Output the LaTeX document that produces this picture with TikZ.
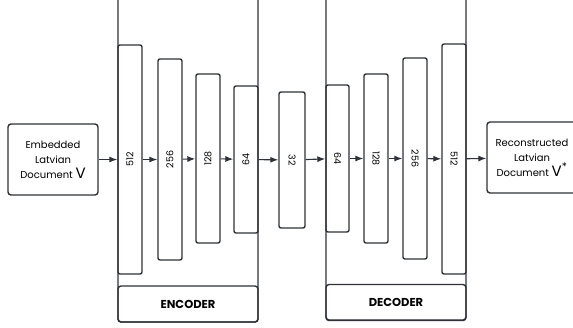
\documentclass[tikz,border=0pt]{standalone}
\usepackage{fontspec}
\setmainfont{Poppins}
\usetikzlibrary{arrows.meta}
\definecolor{ink}{HTML}{2E3238}
\tikzset{
    layer/.style={
        draw=ink,
        line width=1.4pt,
        rounded corners=2pt,
        inner sep=0pt,
        minimum width=24pt,
        font=\fontsize{9.5}{10}\selectfont
    },
    docbox/.style={
        draw=ink,
        line width=1.4pt,
        rounded corners=3pt,
        minimum width=90pt,
        minimum height=71pt,
        inner sep=0pt,
        align=center,
        font=\fontsize{10}{15}\selectfont
    },
    tagbox/.style={
        draw=ink,
        line width=1.4pt,
        rounded corners=3pt,
        minimum width=140pt,
        minimum height=36pt,
        font=\fontsize{11.5}{12}\selectfont\bfseries
    },
    frame/.style={draw=ink, line width=1.4pt, rounded corners=3pt},
    flow/.style={draw=ink, line width=1.1pt, -{Latex[length=8pt,width=6pt]}}
}

\begin{document}
\begin{tikzpicture}[x=1pt,y=-1pt]
  \useasboundingbox (0,0) rectangle (573,327);
  \clip (0,0) rectangle (573,327);

  % encoder and decoder frames
  \draw[frame] (118,-5) |- (258,322) -- (258,-5);
  \draw[frame] (326,-5) |- (466,320) -- (466,-5);
  \node[tagbox] (enctag) at (188,304) {ENCODER};
  \node[tagbox] (dectag) at (396,302.5) {DECODER};

  % input and output
  \node[docbox] (input) at (53,159.5) {Embedded\\Latvian\\Document {\fontsize{15}{15}\selectfont V}};
  \node[docbox] (output) at (532,157.5) {Reconstructed\\Latvian\\Document {\fontsize{15}{15}\selectfont V\textsuperscript{*}}};

  % encoder layers
  \node[layer, minimum height=229pt] (e512) at (130,159.5) {\rotatebox{90}{512}};
  \node[layer, minimum height=201pt] (e256) at (170,159.5) {\rotatebox{90}{256}};
  \node[layer, minimum height=169pt] (e128) at (208,158.5) {\rotatebox{90}{128}};
  \node[layer, minimum height=147pt] (e64) at (246,159.5) {\rotatebox{90}{64}};

  % bottleneck
  \node[layer, minimum width=26pt, minimum height=136pt] (z32) at (292,160) {\rotatebox{-90}{32}};

  % decoder layers
  \node[layer, minimum width=23pt, minimum height=147pt] (d64) at (337.5,158.5) {\rotatebox{-90}{64}};
  \node[layer, minimum height=169pt] (d128) at (376,158.5) {\rotatebox{-90}{128}};
  \node[layer, minimum height=201pt] (d256) at (415,158.5) {\rotatebox{-90}{256}};
  \node[layer, minimum height=230pt] (d512) at (454,159) {\rotatebox{-90}{512}};

  % connections
  \draw[flow] (input) -- (e512);
  \draw[flow] (e512) -- (e256);
  \draw[flow] (e256) -- (e128);
  \draw[flow] (e128) -- (e64);
  \draw[flow] (e64) -- (z32);
  \draw[flow] (z32) -- (d64);
  \draw[flow] (d64) -- (d128);
  \draw[flow] (d128) -- (d256);
  \draw[flow] (d256) -- (d512);
  \draw[flow] (d512) -- (output);
\end{tikzpicture}
\end{document}
